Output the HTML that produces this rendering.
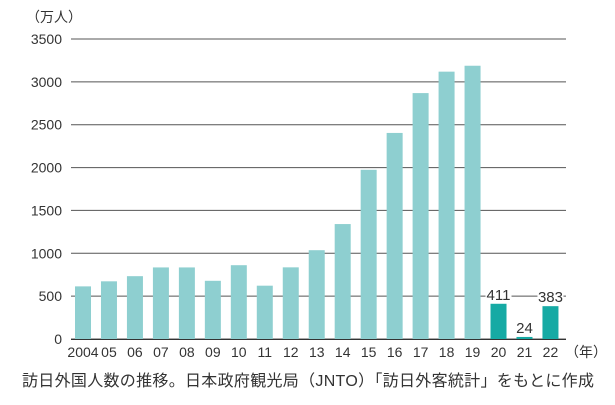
<!DOCTYPE html>
<html><head><meta charset="utf-8"><style>
body{margin:0;background:#fff;width:615px;height:400px;overflow:hidden;font-family:"Liberation Sans","Noto Sans CJK JP",sans-serif}
svg text{font-family:"Liberation Sans","Noto Sans CJK JP",sans-serif;fill:#333}
</style></head><body>
<svg id="c" width="615" height="400"></svg>
<script>
const categories=["2004","05","06","07","08","09","10","11","12","13","14","15","16","17","18","19","20","21","22"];
const values=[614,673,733,835,835,679,861,622,836,1036,1341,1974,2404,2869,3119,3188,411,24,383];
const highlightLabels=["","","","","","","","","","","","","","","","","411","24","383"];
const yTicks=[0,500,1000,1500,2000,2500,3000,3500];
const NS="http://www.w3.org/2000/svg";
const svg=document.getElementById('c');
const y0=339,y1=39,vmax=3500;
const y=v=>y0-(v/vmax)*(y0-y1);
const x=i=>83+i*25.97;
function mk(t,a){const e=document.createElementNS(NS,t);for(const k in a)e.setAttribute(k,a[k]);svg.appendChild(e);return e;}
yTicks.forEach(v=>{
 const l=mk('line',{x1:71,x2:566,y1:y(v),y2:y(v),stroke:'#555','stroke-width':1});
 
 
 const t=mk('text',{x:62,y:y(v)+5,'text-anchor':'end','font-size':14});
 t.textContent=v;
 
 
});
const u=mk('text',{x:26,y:22,'font-size':14});u.textContent='（万人）';


values.forEach((v,i)=>{
 const hi=i>=16;
 const r=mk('rect',{x:x(i)-8,y:y(v),width:16,height:y0-y(v),fill:hi?'#16aaa4':'#8ecfd0'});
 
 
 const t=mk('text',{x:x(i),y:357,'text-anchor':'middle','font-size':14});
 t.textContent=categories[i];
 
 
 if(highlightLabels[i]){
  const bg=mk('rect',{x:x(i)-13,y:y(v)-19,width:26,height:16,fill:'#fff'});
  
  
  const lt=mk('text',{x:x(i),y:y(v)-4,'text-anchor':'middle','font-size':15});
  lt.textContent=highlightLabels[i];
  
  
 }
});
const ax=mk('line',{x1:71,x2:566,y1:y0+0.5,y2:y0+0.5,stroke:'#333','stroke-width':1});


const yr=mk('text',{x:565,y:357,'font-size':14});yr.textContent='（年）';


const cap=mk('text',{x:22,y:386,'font-size':16,'letter-spacing':0.3});cap.textContent='訪日外国人数の推移。日本政府観光局（JNTO）「訪日外客統計」をもとに作成';


</script>
</body></html>
